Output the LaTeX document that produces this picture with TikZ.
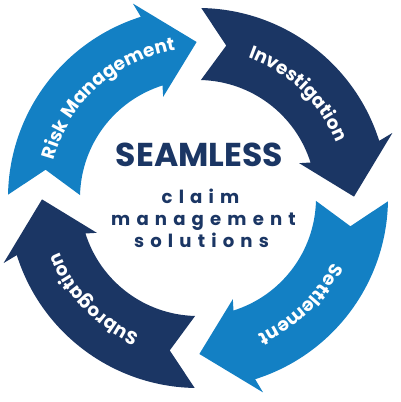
\documentclass[tikz,border=0pt]{standalone}
\usepackage{fontspec}
\setmainfont{Poppins}
\newfontfamily\spacedfont[LetterSpace=34]{Poppins}
\newfontfamily\arrowfont[LetterSpace=6]{Poppins}
\usetikzlibrary{decorations.text}
\definecolor{lightarrow}{RGB}{19,128,196}
\definecolor{darkarrow}{RGB}{27,54,100}
\begin{document}
\begin{tikzpicture}[x=0.02cm,y=0.02cm,
  arrowshape/.style={fill=#1},
  titletext/.style={anchor=base,inner sep=0pt,text=darkarrow,font=\fontsize{18.8}{20}\selectfont\bfseries},
  subtext/.style={anchor=base,inner sep=0pt,text=darkarrow,font=\spacedfont\fontsize{10.3}{12}\selectfont\bfseries}]
\useasboundingbox (-198,-204) rectangle (202,198);
% four arrows
\foreach \k/\col in {0/lightarrow,1/darkarrow,2/lightarrow,3/darkarrow}{
  \begin{scope}[rotate=-90*\k]
    \path[arrowshape=\col] (179:190) arc[start angle=179, end angle=107.5, radius=190]
      -- (108.5:205) -- (90.5:156) -- (109:107) -- (107.5:118)
      arc[start angle=107.5, end angle=178.6, radius=118]
      -- (169.5:155) -- cycle;
  \end{scope}
}
% arrow labels
\path[decorate,decoration={text along path,text align=center,text color=white,
  text={|\arrowfont\fontsize{10.5}{12}\selectfont\bfseries|Risk Management}}]
  (172:149) arc[start angle=172, end angle=92, radius=149];
\path[decorate,decoration={text along path,text align=center,text color=white,
  text={|\arrowfont\fontsize{10.5}{12}\selectfont\bfseries|Investigation}}]
  (86:149) arc[start angle=86, end angle=6, radius=149];
\path[decorate,decoration={text along path,text align=center,text color=white,
  text={|\arrowfont\fontsize{10.5}{12}\selectfont\bfseries|Settlement}}]
  (-6:149) arc[start angle=-6, end angle=-86, radius=149];
\path[decorate,decoration={text along path,text align=center,text color=white,
  text={|\arrowfont\fontsize{10.5}{12}\selectfont\bfseries|Subrogation}}]
  (-96:149) arc[start angle=-96, end angle=-176, radius=149];
% centre text
\node[titletext] (title) at (1.5,31) {SEAMLESS};
\node[subtext] (l1) at (2.5,-6) {claim};
\node[subtext] (l2) at (5.5,-28) {management};
\node[subtext] (l3) at (3.5,-50) {solutions};
\end{tikzpicture}
\end{document}
